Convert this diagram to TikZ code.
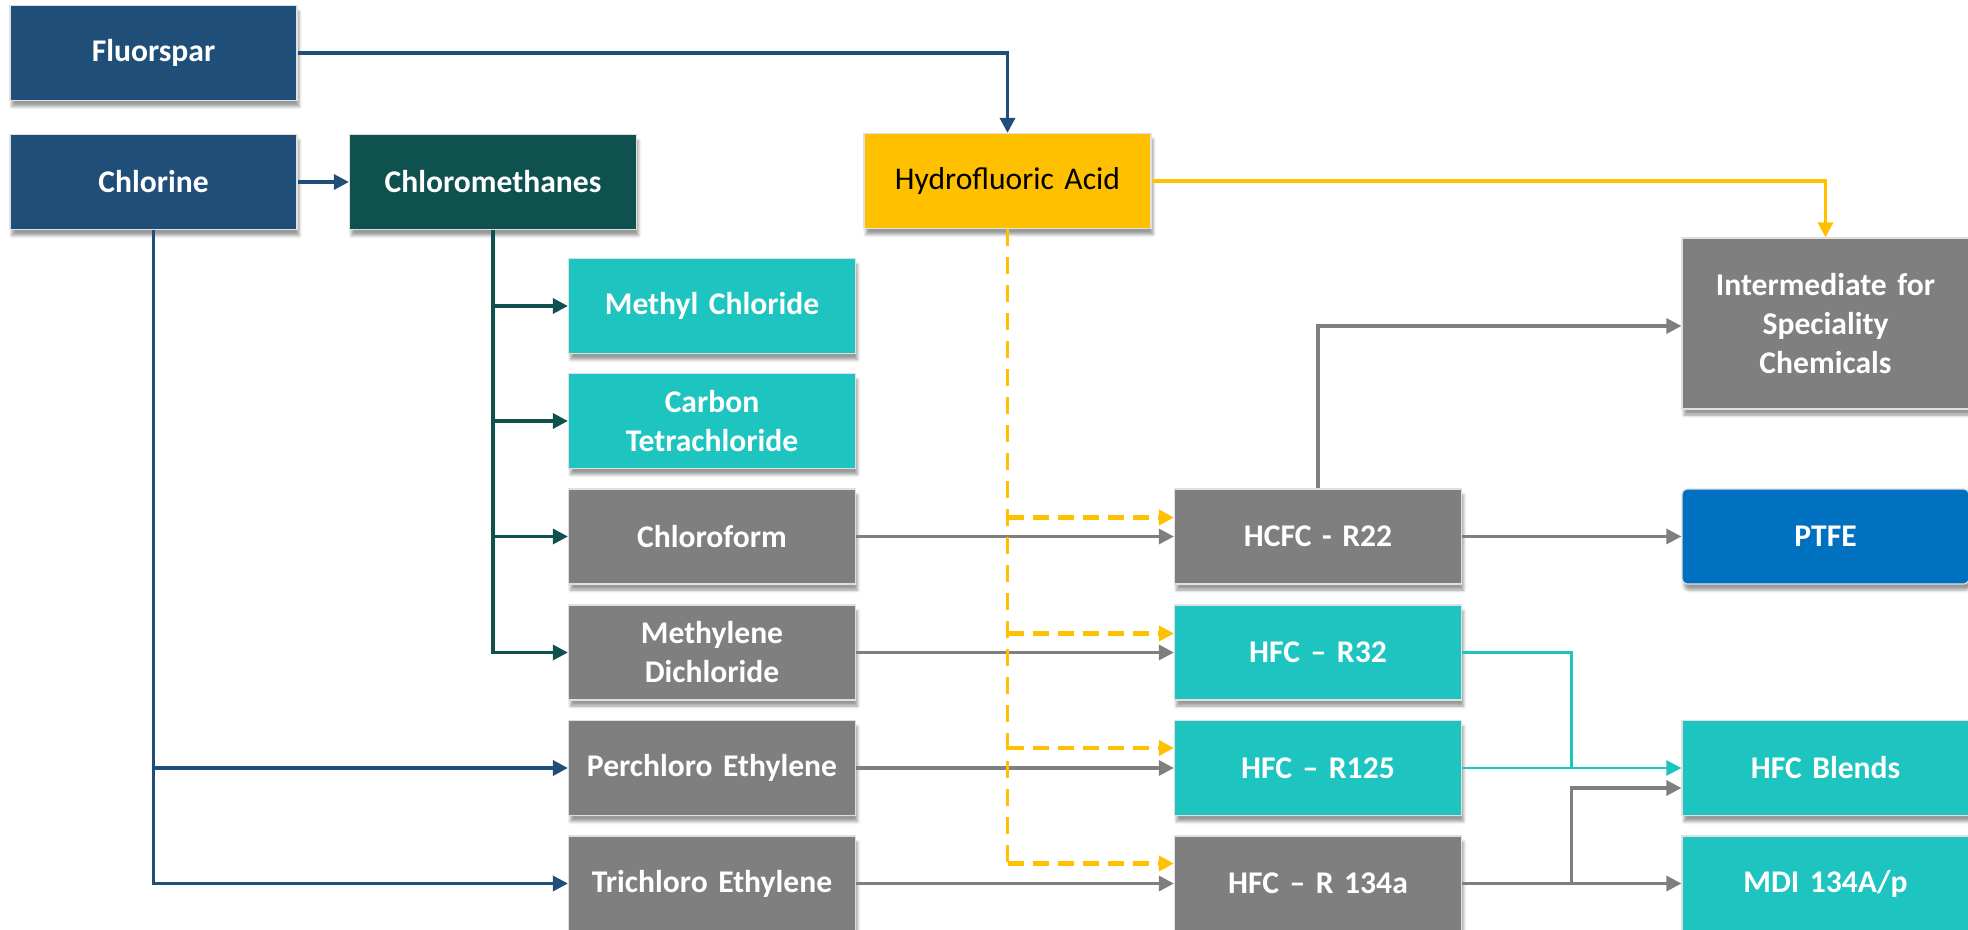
\documentclass[tikz,border=0pt]{standalone}
\usepackage{fontspec}
\setmainfont{Carlito}
\usepackage{tikz}
\usetikzlibrary{arrows.meta,calc,shadows.blur}
\definecolor{fluorblue}{HTML}{1F4E79}
\definecolor{methteal}{HTML}{0E514E}
\definecolor{hfyellow}{HTML}{FFC000}
\definecolor{prodcyan}{HTML}{1DC4C0}
\definecolor{procgray}{HTML}{7F7F7F}
\definecolor{ptfeblue}{HTML}{0070C0}

\begin{document}
\begin{tikzpicture}[x=0.5pt, y=-0.5pt,
	chembox/.style={minimum width=143.5pt, minimum height=47.5pt, text width=135pt, align=center, inner sep=0pt,
		draw=white!88!black, line width=0.6pt, text=white, font=\fontsize{15.8}{19.5}\selectfont\bfseries,
		blur shadow={shadow xshift=1pt, shadow yshift=-3pt, shadow blur radius=1.5pt, shadow opacity=40}},
	tip/.style={-{Triangle[length=7.5pt,width=7.5pt]}},
	blueline/.style={draw=fluorblue, line width=1.7pt},
	tealline/.style={draw=methteal, line width=1.6pt},
	grayline/.style={draw=procgray, line width=1.6pt},
	cyanline/.style={draw=prodcyan, line width=1.4pt},
	yellowline/.style={draw=hfyellow, line width=1.6pt},
	hfdash/.style={draw=hfyellow, line width=2.1pt, dash pattern=on 8pt off 4.5pt}]
	\useasboundingbox (0,0) rectangle (1968,930);

	\node[chembox, fill=fluorblue] (flu) at (153.5,53) {Fluorspar};
	\node[chembox, fill=fluorblue] (chl) at (153.5,182) {Chlorine};
	\node[chembox, fill=methteal] (cme) at (493,182) {Chloromethanes};
	\node[chembox, fill=hfyellow, text=black, font=\fontsize{15.8}{19.5}\selectfont] (hfa) at (1007.5,181) {Hydrofluoric Acid};
	\node[chembox, fill=prodcyan] (mcl) at (712,306) {Methyl Chloride};
	\node[chembox, fill=prodcyan] (ctc) at (712,421) {Carbon\\Tetrachloride};
	\node[chembox, fill=procgray] (cfm) at (712,536.5) {Chloroform};
	\node[chembox, fill=procgray] (mdc) at (712,652.5) {Methylene\\Dichloride};
	\node[chembox, fill=procgray] (pce) at (712,768) {Perchloro Ethylene};
	\node[chembox, fill=procgray] (tce) at (712,883.5) {Trichloro Ethylene};
	\node[chembox, fill=procgray] (r22) at (1318,536.5) {HCFC - R22};
	\node[chembox, fill=prodcyan] (r32) at (1318,652.5) {HFC -- R32};
	\node[chembox, fill=prodcyan] (r125) at (1318,768) {HFC -- R125};
	\node[chembox, fill=procgray] (r134) at (1318,883.5) {HFC -- R 134a};
	\node[chembox, fill=procgray, minimum height=85.5pt] (isc) at (1825.5,323.5) {Intermediate for\\Speciality\\Chemicals};
	\node[chembox, fill=ptfeblue, rounded corners=2.5pt] (ptfe) at (1825.5,536.5) {PTFE};
	\node[chembox, fill=prodcyan] (blend) at (1825.5,768) {HFC Blends};
	\node[chembox, fill=prodcyan] (mdi) at (1825.5,883.5) {MDI 134A/p};

	\draw[blueline, tip] (flu.east) -| (hfa.north);
	\draw[blueline, tip] (chl.east) -- (cme.west);
	\draw[blueline, tip] (chl.south) |- (tce.west);
	\draw[blueline, tip] (chl.south |- pce.west) -- (pce.west);

	\draw[tealline, tip] (cme.south) |- (mdc.west);
	\draw[tealline, tip] (cme.south |- mcl.west) -- (mcl.west);
	\draw[tealline, tip] (cme.south |- ctc.west) -- (ctc.west);
	\draw[tealline, tip] (cme.south |- cfm.west) -- (cfm.west);

	\draw[grayline, tip] (cfm.east) -- (r22.west);
	\draw[grayline, tip] (mdc.east) -- (r32.west);
	\draw[grayline, tip] (pce.east) -- (r125.west);
	\draw[grayline, tip] (tce.east) -- (r134.west);
	\draw[grayline, tip] (r22.north) |- ($(isc.west)+(0,2.5)$);
	\draw[grayline, tip] (r22.east) -- (ptfe.west);
	\draw[grayline, tip] (r134.east) -- (mdi.west);
	\coordinate (gj) at ($(r134.east)!0.5!(mdi.west)$);
	\coordinate (gin) at ($(blend.west)+(0,20)$);
	\draw[grayline, tip] (gj) |- (gin);

	\coordinate (cj) at ($(r125.east)!0.5!(blend.west)$);
	\draw[cyanline] (r32.east) -| (cj);
	\draw[cyanline, tip] (r125.east) -- (blend.west);

	\draw[yellowline, tip] (hfa.east) -| (isc.north);
	\coordinate (r22in) at ($(r22.west)+(0,-19)$);
	\coordinate (r32in) at ($(r32.west)+(0,-19)$);
	\coordinate (r125in) at ($(r125.west)+(0,-20)$);
	\coordinate (r134in) at ($(r134.west)+(0,-20)$);
	\draw[yellowline, line width=1.5pt, dash pattern=on 8.5pt off 5.5pt] (hfa.south) -- (hfa.south |- r134in);
	\draw[hfdash, tip] (hfa.south |- r22in) -- (r22in);
	\draw[hfdash, tip] (hfa.south |- r32in) -- (r32in);
	\draw[hfdash, tip] (hfa.south |- r125in) -- (r125in);
	\draw[hfdash, tip] (hfa.south |- r134in) -- (r134in);
\end{tikzpicture}
\end{document}
